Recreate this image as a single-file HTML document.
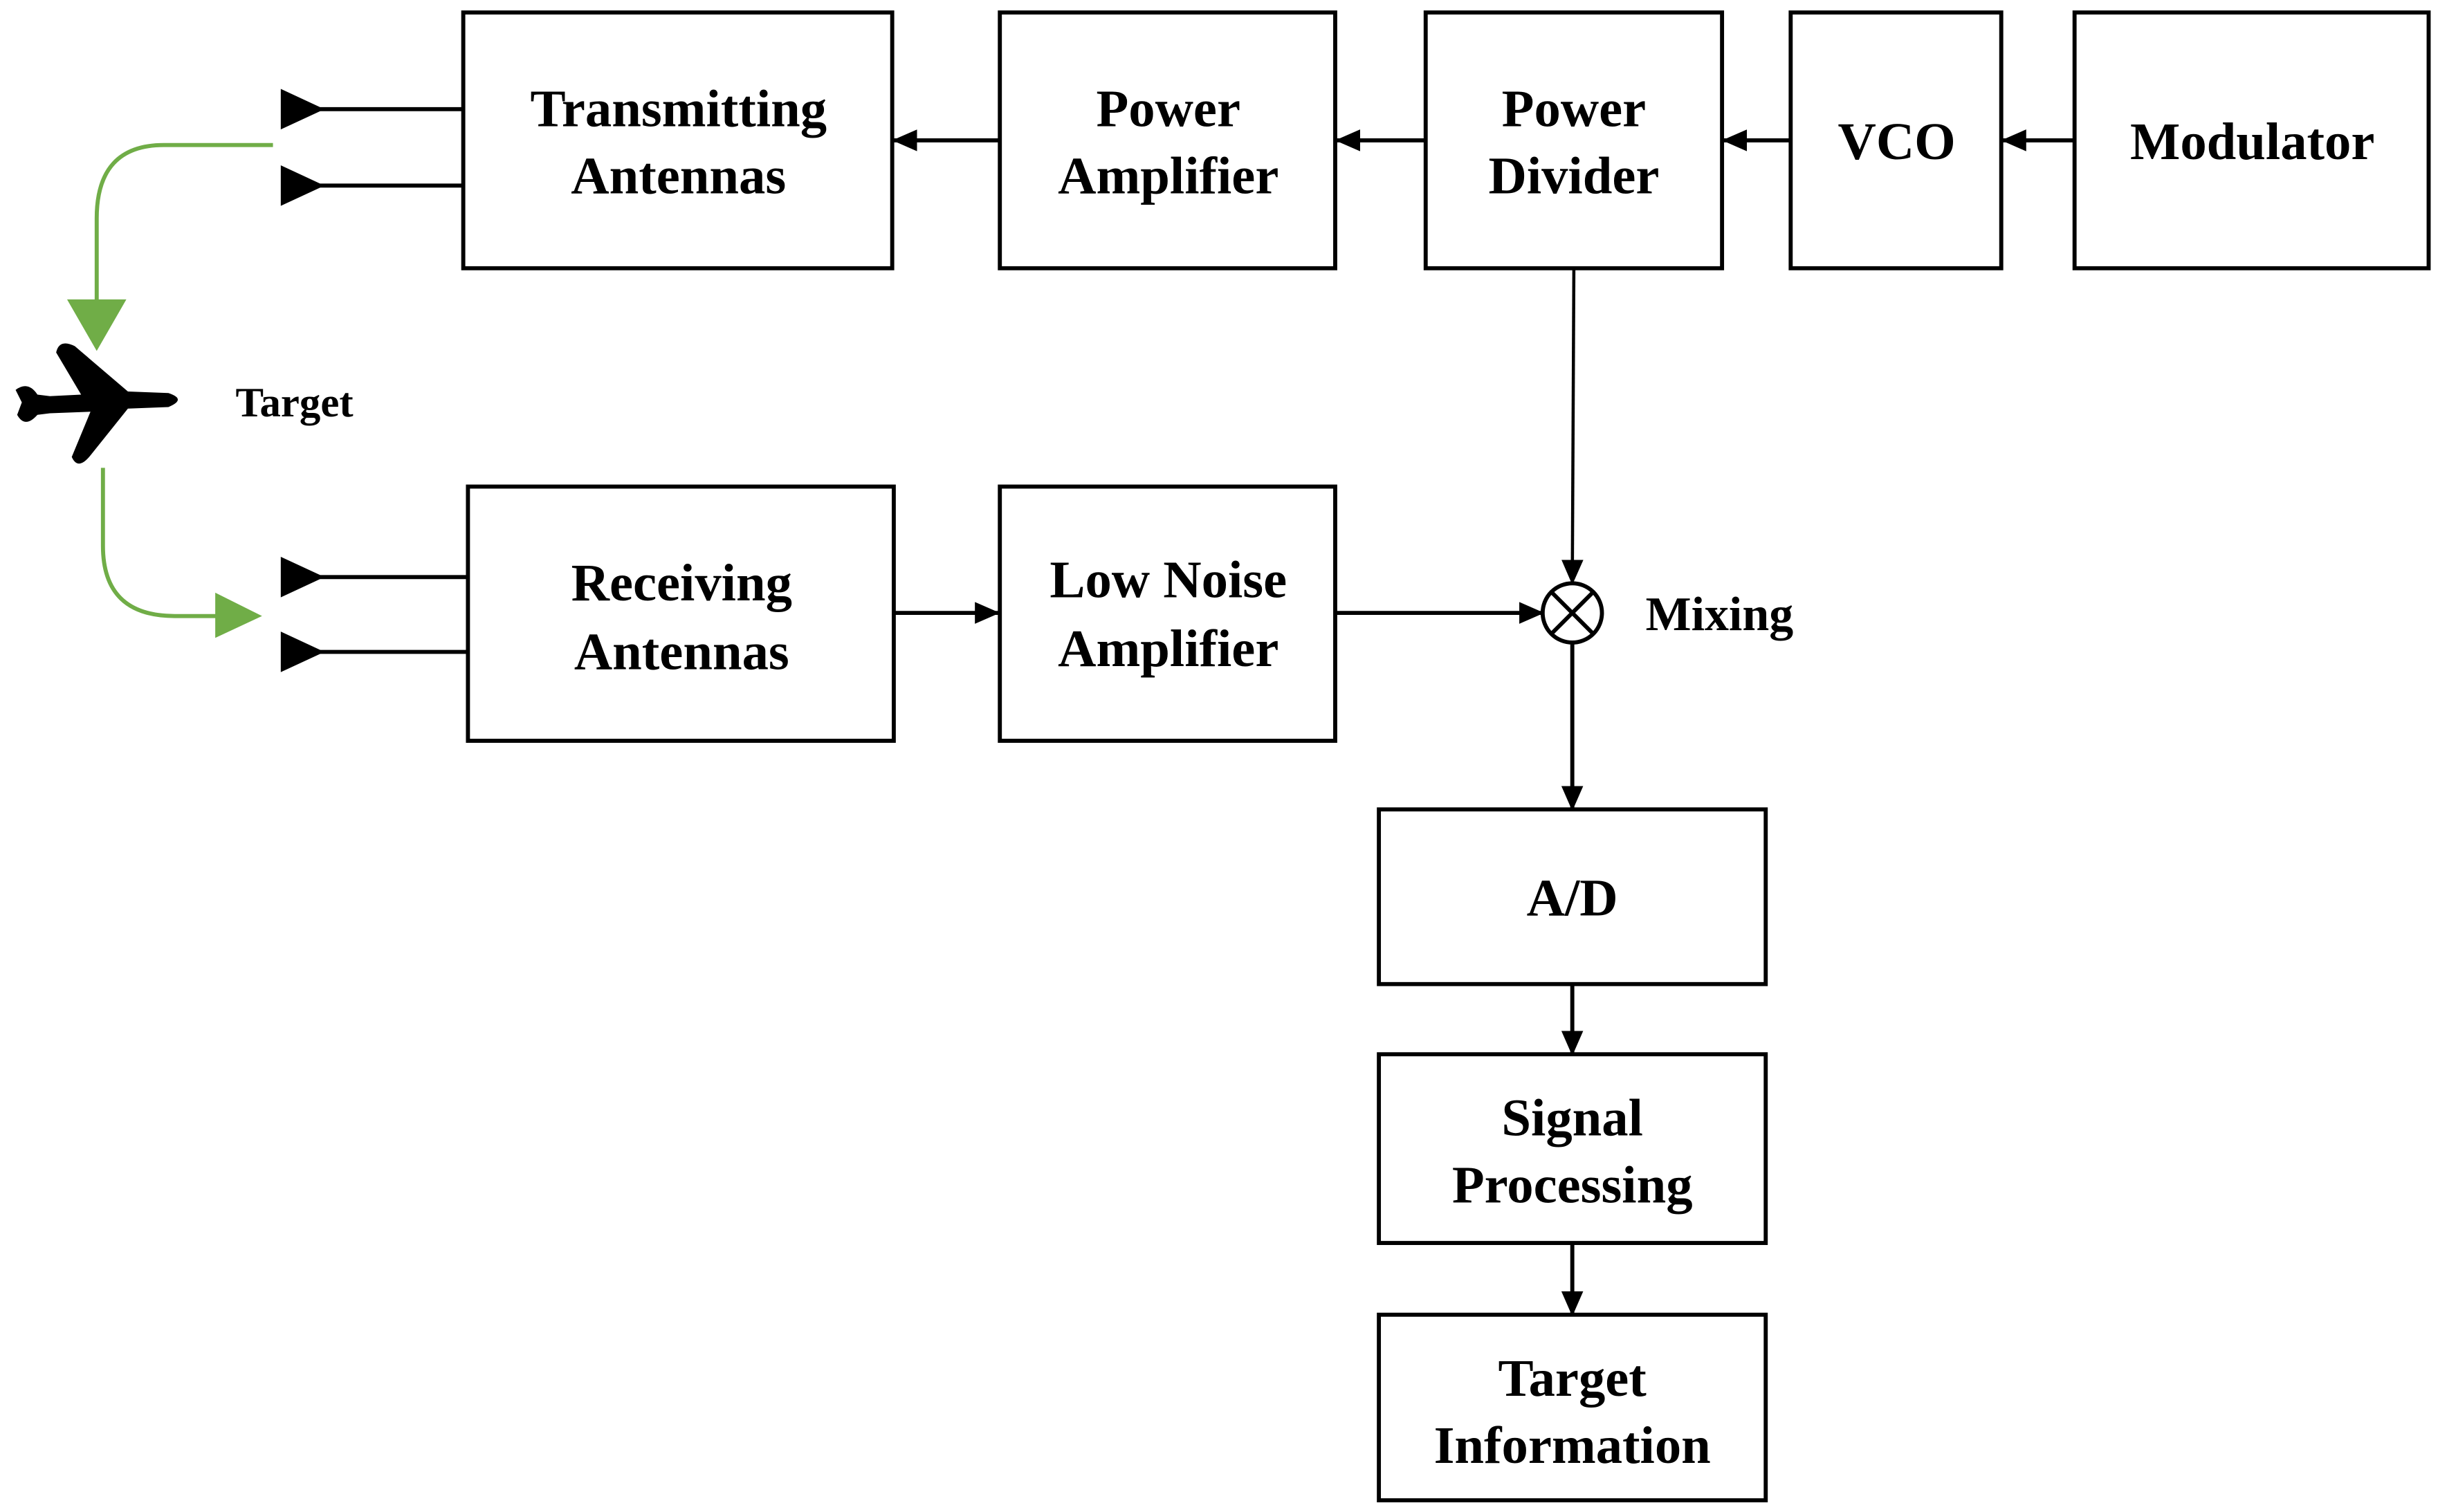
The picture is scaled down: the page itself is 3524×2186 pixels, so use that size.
<!DOCTYPE html>
<html><head><meta charset="utf-8"><style>
html,body{margin:0;padding:0;background:#fff;}
svg{display:block;}
text{font-family:"Liberation Serif",serif;font-weight:bold;fill:#000;}
</style></head><body>
<svg width="3524" height="2186" viewBox="0 0 1563 969.5" preserveAspectRatio="none" xmlns="http://www.w3.org/2000/svg">
<defs>
<marker id="a" markerWidth="16" markerHeight="14" refX="15" refY="7" orient="auto" markerUnits="userSpaceOnUse" viewBox="0 0 16 14">
<path d="M0,0 L16,7 L0,14 z" fill="#000"/></marker>
</defs>
<g fill="none" stroke="#000" stroke-width="2.6">
<rect x="297" y="8" width="275" height="164"/>
<rect x="641" y="8" width="215" height="164"/>
<rect x="914" y="8" width="190" height="164"/>
<rect x="1148" y="8" width="135" height="164"/>
<rect x="1330" y="8" width="227" height="164"/>
<rect x="300" y="312" width="273" height="163"/>
<rect x="641" y="312" width="215" height="163"/>
<rect x="884" y="519" width="248" height="112"/>
<rect x="884" y="676" width="248" height="121"/>
<rect x="884" y="843" width="248" height="119"/>
<circle cx="1008" cy="393" r="19"/>
<line x1="994.6" y1="379.6" x2="1021.4" y2="406.4"/>
<line x1="1021.4" y1="379.6" x2="994.6" y2="406.4"/>
<line x1="1330" y1="90" x2="1284" y2="90" marker-end="url(#a)"/>
<line x1="1148" y1="90" x2="1105" y2="90" marker-end="url(#a)"/>
<line x1="914" y1="90" x2="857" y2="90" marker-end="url(#a)"/>
<line x1="641" y1="90" x2="573" y2="90" marker-end="url(#a)"/>
<line x1="1009" y1="172" x2="1008" y2="374" stroke-width="2" marker-end="url(#a)"/>
<line x1="573" y1="393" x2="640" y2="393" marker-end="url(#a)"/>
<line x1="856" y1="393" x2="989" y2="393" marker-end="url(#a)"/>
<line x1="1008" y1="412" x2="1008" y2="519" marker-end="url(#a)"/>
<line x1="1008" y1="631" x2="1008" y2="676" marker-end="url(#a)"/>
<line x1="1008" y1="797" x2="1008" y2="843" marker-end="url(#a)"/>
<line x1="205" y1="70" x2="297" y2="70"/>
<line x1="205" y1="119" x2="297" y2="119"/>
<line x1="205" y1="370" x2="300" y2="370"/>
<line x1="205" y1="418" x2="300" y2="418"/>
</g>
<g fill="#000">
<path d="M180,57 L208,70 L180,83 z"/>
<path d="M180,106 L208,119 L180,132 z"/>
<path d="M180,357 L208,370 L180,383 z"/>
<path d="M180,405 L208,418 L180,431 z"/>
</g>
<g fill="none" stroke="#70ad47" stroke-width="2.6">
<path d="M175,93 L105,93 Q62,93 62,140 L62,195"/>
<path d="M66,300 L66,350 Q66,395 112,395 L140,395"/>
</g>
<g fill="#70ad47">
<path d="M43,192 L81,192 L62,225 z"/>
<path d="M138,380 L168,395 L138,409 z"/>
</g>
<path fill="#000" d="M10,250 Q18,244 24,253 L32,254 L52,253 L36,226 Q38,217 48,222 L82,251 L108,252 Q120,256 108,261 L82,262 L58,292 Q50,302 46,293 L58,264 L32,265 L24,266 Q16,275 11,266 L14,258 z"/>
<g font-size="34" text-anchor="middle">
<text x="435" y="81">Transmitting</text>
<text x="435" y="124">Antennas</text>
<text x="749" y="81">Power</text>
<text x="749" y="124">Amplifier</text>
<text x="1009" y="81">Power</text>
<text x="1009" y="124">Divider</text>
<text x="1216" y="102">VCO</text>
<text x="1444" y="102">Modulator</text>
<text x="437" y="385">Receiving</text>
<text x="437" y="429">Antennas</text>
<text x="749" y="383">Low Noise</text>
<text x="749" y="427">Amplifier</text>
<text x="1008" y="587">A/D</text>
<text x="1008" y="728">Signal</text>
<text x="1008" y="771">Processing</text>
<text x="1008" y="895">Target</text>
<text x="1008" y="938">Information</text>
</g>
<text x="1055" y="404" font-size="31">Mixing</text>
<text x="151" y="267" font-size="27">Target</text>
</svg>
</body></html>
